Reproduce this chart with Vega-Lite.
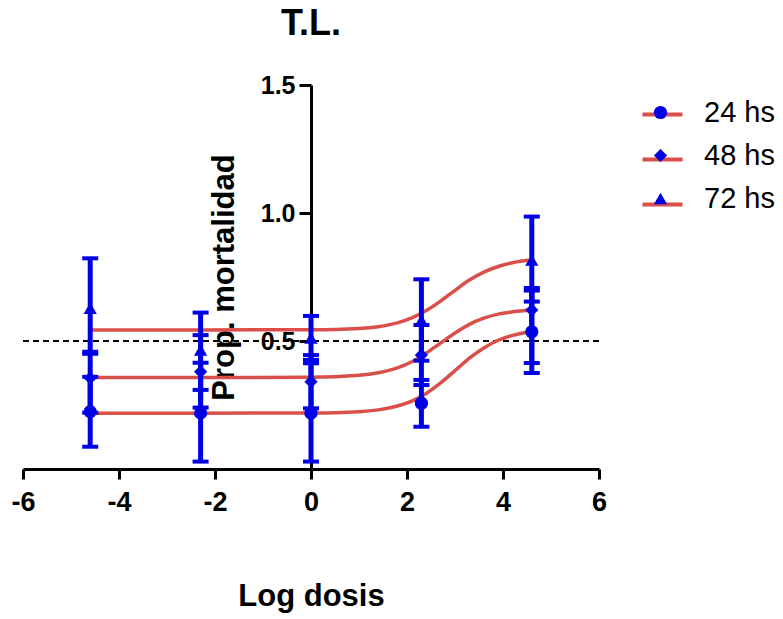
{
  "$schema": "https://vega.github.io/schema/vega-lite/v6.json",
  "width": 576,
  "height": 384,
  "autosize": {"type": "none"},
  "padding": {"left": 23, "top": 85, "right": 184, "bottom": 150},
  "title": {"text": "T.L.", "fontSize": 36, "font": "Liberation Sans", "fontWeight": "bold", "anchor": "middle", "frame": "group", "offset": 30, "color": "black"},
  "datasets": {
    "curves": [
      {"x": -4.6, "y": 0.218, "serie": "24 hs"},
      {"x": -2.3, "y": 0.218, "serie": "24 hs"},
      {"x": 0, "y": 0.219, "serie": "24 hs"},
      {"x": 1.0, "y": 0.224, "serie": "24 hs"},
      {"x": 1.4, "y": 0.231, "serie": "24 hs"},
      {"x": 1.8, "y": 0.246, "serie": "24 hs"},
      {"x": 2.1, "y": 0.265, "serie": "24 hs"},
      {"x": 2.4, "y": 0.295, "serie": "24 hs"},
      {"x": 2.7, "y": 0.336, "serie": "24 hs"},
      {"x": 3.0, "y": 0.384, "serie": "24 hs"},
      {"x": 3.3, "y": 0.433, "serie": "24 hs"},
      {"x": 3.6, "y": 0.473, "serie": "24 hs"},
      {"x": 3.9, "y": 0.503, "serie": "24 hs"},
      {"x": 4.2, "y": 0.522, "serie": "24 hs"},
      {"x": 4.6, "y": 0.537, "serie": "24 hs"},
      {"x": -4.6, "y": 0.357, "serie": "48 hs"},
      {"x": -2.3, "y": 0.357, "serie": "48 hs"},
      {"x": 0, "y": 0.358, "serie": "48 hs"},
      {"x": 1.0, "y": 0.366, "serie": "48 hs"},
      {"x": 1.4, "y": 0.376, "serie": "48 hs"},
      {"x": 1.8, "y": 0.395, "serie": "48 hs"},
      {"x": 2.1, "y": 0.419, "serie": "48 hs"},
      {"x": 2.4, "y": 0.453, "serie": "48 hs"},
      {"x": 2.7, "y": 0.492, "serie": "48 hs"},
      {"x": 3.0, "y": 0.531, "serie": "48 hs"},
      {"x": 3.3, "y": 0.565, "serie": "48 hs"},
      {"x": 3.6, "y": 0.589, "serie": "48 hs"},
      {"x": 3.9, "y": 0.605, "serie": "48 hs"},
      {"x": 4.2, "y": 0.614, "serie": "48 hs"},
      {"x": 4.6, "y": 0.621, "serie": "48 hs"},
      {"x": -4.6, "y": 0.543, "serie": "72 hs"},
      {"x": -2.3, "y": 0.543, "serie": "72 hs"},
      {"x": 0, "y": 0.544, "serie": "72 hs"},
      {"x": 1.0, "y": 0.549, "serie": "72 hs"},
      {"x": 1.4, "y": 0.556, "serie": "72 hs"},
      {"x": 1.8, "y": 0.571, "serie": "72 hs"},
      {"x": 2.1, "y": 0.590, "serie": "72 hs"},
      {"x": 2.4, "y": 0.619, "serie": "72 hs"},
      {"x": 2.7, "y": 0.656, "serie": "72 hs"},
      {"x": 3.0, "y": 0.698, "serie": "72 hs"},
      {"x": 3.3, "y": 0.738, "serie": "72 hs"},
      {"x": 3.6, "y": 0.769, "serie": "72 hs"},
      {"x": 3.9, "y": 0.791, "serie": "72 hs"},
      {"x": 4.2, "y": 0.806, "serie": "72 hs"},
      {"x": 4.6, "y": 0.816, "serie": "72 hs"}
    ],
    "points": [
      {"x": -4.6, "y": 0.224, "lo": 0.087, "hi": 0.36, "grupo": "24 hs"},
      {"x": -2.3, "y": 0.219, "lo": 0.029, "hi": 0.415, "grupo": "24 hs"},
      {"x": 0, "y": 0.218, "lo": 0.029, "hi": 0.413, "grupo": "24 hs"},
      {"x": 2.3, "y": 0.257, "lo": 0.165, "hi": 0.348, "grupo": "24 hs"},
      {"x": 4.6, "y": 0.536, "lo": 0.375, "hi": 0.697, "grupo": "24 hs"},
      {"x": -4.6, "y": 0.355, "lo": 0.22, "hi": 0.458, "grupo": "48 hs"},
      {"x": -2.3, "y": 0.38, "lo": 0.24, "hi": 0.523, "grupo": "48 hs"},
      {"x": 0, "y": 0.341, "lo": 0.237, "hi": 0.445, "grupo": "48 hs"},
      {"x": 2.3, "y": 0.445, "lo": 0.328, "hi": 0.5625, "grupo": "48 hs"},
      {"x": 4.6, "y": 0.621, "lo": 0.414, "hi": 0.707, "grupo": "48 hs"},
      {"x": -4.6, "y": 0.628, "lo": 0.45, "hi": 0.823, "grupo": "72 hs"},
      {"x": -2.3, "y": 0.465, "lo": 0.309, "hi": 0.611, "grupo": "72 hs"},
      {"x": 0, "y": 0.512, "lo": 0.426, "hi": 0.598, "grupo": "72 hs"},
      {"x": 2.3, "y": 0.582, "lo": 0.423, "hi": 0.741, "grupo": "72 hs"},
      {"x": 4.6, "y": 0.816, "lo": 0.654, "hi": 0.986, "grupo": "72 hs"}
    ],
    "ref": [{"y": 0.5}]
  },
  "layer": [
    {
      "data": {"name": "ref"},
      "mark": {"type": "rule", "color": "black", "strokeWidth": 2, "strokeDash": [6, 4]},
      "encoding": {"y": {"field": "y", "type": "quantitative"}}
    },
    {
      "data": {"name": "curves"},
      "mark": {"type": "line", "strokeWidth": 3.5, "interpolate": "monotone"},
      "encoding": {
        "x": {"field": "x", "type": "quantitative", "scale": {"domain": [-6, 6], "nice": false, "zero": false, "padding": 0},
              "axis": {"values": [-6, -4, -2, 0, 2, 4, 6], "labelExpr": "'' + datum.value", "labelFlush": false, "title": "Log dosis", "titlePadding": 66, "labelPadding": 10}},
        "y": {"field": "y", "type": "quantitative", "scale": {"domain": [0, 1.5], "nice": false, "padding": 0},
              "axis": {"values": [0.5, 1, 1.5], "format": ".1f", "labelFlush": false, "title": "Prop. mortalidad", "offset": -288, "titlePadding": 20, "labelPadding": 4, "tickSize": 12, "labelFontSize": 25}},
        "color": {"field": "serie", "type": "nominal",
                  "scale": {"domain": ["24 hs", "48 hs", "72 hs"], "range": ["#DB4F4A", "#DB4F4A", "#DB4F4A"]},
                  "legend": {"title": null, "orient": "none", "legendX": 623, "legendY": 13, "symbolType": "M-1.38,0H1.38", "symbolSize": 841, "symbolStrokeWidth": 4, "symbolFillColor": "transparent", "labelExpr": "''", "labelFontSize": 29, "labelFont": "Liberation Sans", "labelOffset": 29, "rowPadding": 13, "padding": 0, "zindex": 1}}
      }
    },
    {
      "data": {"name": "points"},
      "mark": {"type": "rule", "color": "#0000E6", "strokeWidth": 5},
      "encoding": {
        "x": {"field": "x", "type": "quantitative"},
        "y": {"field": "lo", "type": "quantitative"},
        "y2": {"field": "hi"}
      }
    },
    {
      "data": {"name": "points"},
      "mark": {"type": "tick", "orient": "horizontal", "color": "#0000E6", "size": 16, "thickness": 4, "opacity": 1},
      "encoding": {
        "x": {"field": "x", "type": "quantitative"},
        "y": {"field": "lo", "type": "quantitative"}
      }
    },
    {
      "data": {"name": "points"},
      "mark": {"type": "tick", "orient": "horizontal", "color": "#0000E6", "size": 16, "thickness": 4, "opacity": 1},
      "encoding": {
        "x": {"field": "x", "type": "quantitative"},
        "y": {"field": "hi", "type": "quantitative"}
      }
    },
    {
      "data": {"name": "points"},
      "mark": {"type": "point", "filled": true, "color": "#0000E6", "opacity": 1, "size": 175},
      "encoding": {
        "x": {"field": "x", "type": "quantitative"},
        "y": {"field": "y", "type": "quantitative"},
        "shape": {"field": "grupo", "type": "nominal",
                  "scale": {"range": ["circle", "diamond", "triangle-up"]},
                  "legend": {"title": null, "orient": "none", "legendX": 623, "legendY": 13, "symbolSize": 175, "symbolFillColor": "#0000E6", "symbolStrokeWidth": 0, "symbolOpacity": 1, "labelOffset": 29, "labelFontSize": 29, "labelFont": "Liberation Sans", "labelColor": "black", "rowPadding": 13, "padding": 0, "zindex": 2}}
      }
    }
  ],
  "config": {
    "view": {"stroke": null},
    "font": "Liberation Sans",
    "scale": {"continuousPadding": 0},
    "axis": {
      "grid": false,
      "domainColor": "black",
      "domainWidth": 3,
      "tickColor": "black",
      "tickWidth": 3,
      "tickSize": 10,
      "labelFont": "Liberation Sans",
      "labelFontWeight": "bold",
      "labelFontSize": 27,
      "labelColor": "black",
      "titleFont": "Liberation Sans",
      "titleFontWeight": "bold",
      "titleFontSize": 31,
      "titleColor": "black"
    }
  }
}
